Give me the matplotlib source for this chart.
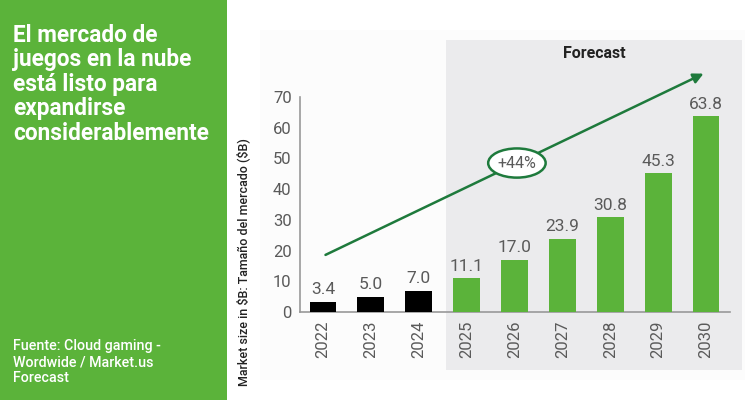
import matplotlib.pyplot as plt
import matplotlib.patches as patches
from matplotlib.transforms import blended_transform_factory

plt.rcParams['font.family'] = ['Roboto', 'DejaVu Sans']

years = ['2022', '2023', '2024', '2025', '2026', '2027', '2028', '2029', '2030']
values = [3.4, 5.0, 7.0, 11.1, 17.0, 23.9, 30.8, 45.3, 63.8]
n_actual = 3  # 2022-2024 real, rest forecast
cagr_label = '+44%'

title = 'El mercado de\njuegos en la nube\nestá listo para\nexpandirse\nconsiderablemente'
source = 'Fuente: Cloud gaming -\nWordwide / Market.us\nForecast'
ylabel = r'Market size in \$B: Tamaño del mercado (\$B)'

green = '#5bb33a'
dark_green = '#1e7a3c'
grey_txt = '#5a5a5a'

fig = plt.figure(figsize=(7.5, 4), dpi=100)
fig.patch.set_facecolor('white')

# left green panel
fig.patches.append(patches.Rectangle((0, 0), 227 / 750, 1, transform=fig.transFigure,
                                     facecolor=green, edgecolor='none', zorder=-2))
# faint off-white backdrop
fig.patches.append(patches.Rectangle((260 / 750, 20 / 400), 485 / 750, 350 / 400,
                                     transform=fig.transFigure, facecolor='#fcfcfc',
                                     edgecolor='none', zorder=-2))

fig.text(13 / 750, 1 - 24 / 400, title, color='white', fontsize=16.3, fontweight='bold',
         va='top', ha='left', linespacing=1.08)
fig.text(13 / 750, 1 - 339 / 400, source, color='white', fontsize=10.3, fontweight='medium',
         va='top', ha='left', linespacing=1.2)

ax = fig.add_axes([300 / 750, 1 - 312 / 400, 430 / 750, 215 / 400])
ax.set_facecolor('none')
ax.set_zorder(1)

x = list(range(len(years)))
colors = ['black'] * n_actual + [green] * (len(years) - n_actual)
bars = ax.bar(x, values, width=0.56, color=colors, zorder=3)
for xi, v in zip(x, values):
    ax.text(xi, v + 1.4, f'{v:.1f}', ha='center', va='bottom', fontsize=12.5, color=grey_txt, zorder=4)

ax.set_xlim(-0.48, 8.5)
ax.set_ylim(0, 70)
ax.set_yticks(range(0, 71, 10))
ax.set_xticks(x)
ax.set_xticklabels(years, rotation=90)
ax.tick_params(axis='both', length=0, labelsize=12, labelcolor=grey_txt, pad=6)
for s in ['top', 'right']:
    ax.spines[s].set_visible(False)
for s in ['left', 'bottom']:
    ax.spines[s].set_color('#999999')
    ax.spines[s].set_linewidth(1.2)

ax.set_ylabel(ylabel, fontsize=9, fontweight='medium', color='#222222')
ax.yaxis.set_label_coords(-0.115, 0.23)

# forecast shaded region
trans = blended_transform_factory(ax.transData, ax.transAxes)
ax.add_patch(patches.Rectangle((n_actual - 0.43, -0.27), len(years) - n_actual + 0.18, 1.535,
                               transform=trans, facecolor='#ebebed', edgecolor='none',
                               zorder=0, clip_on=False))
ax.text((n_actual - 0.43 + len(years) - 0.25) / 2, 1.2, 'Forecast', transform=trans,
        ha='center', va='center', fontsize=11.5, fontweight='bold', color='#222222')

# growth arrow
ax.annotate('', xy=(8, 78), xytext=(0, 18.2),
            arrowprops=dict(arrowstyle='-|>', color=dark_green, lw=1.8, mutation_scale=15),
            annotation_clip=False, zorder=5)
ax.add_patch(patches.Ellipse((4.05, 48.5), 1.2, 9.5, facecolor='white', edgecolor=dark_green,
                             lw=1.8, zorder=6, clip_on=False))
ax.text(4.05, 48.5, cagr_label, ha='center', va='center', fontsize=11.5, color=grey_txt, zorder=7)

fig.savefig('out.png', dpi=100)
